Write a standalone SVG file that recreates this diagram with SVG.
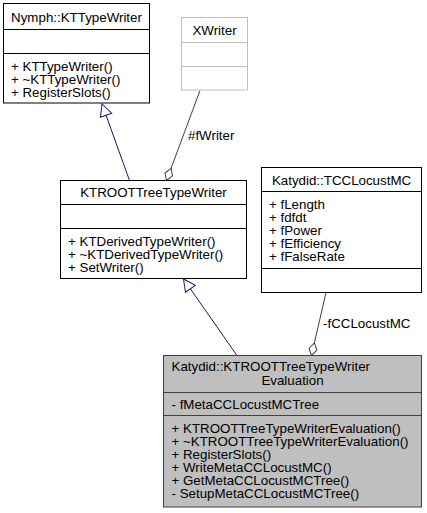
<svg xmlns="http://www.w3.org/2000/svg" width="427" height="513" viewBox="0 0 427 513">
<style>
text { font-family: "Liberation Sans", Arial, Helvetica, sans-serif; font-size: 13.33px; fill: #000; }
.c { text-anchor: middle; }
.box { fill: #ffffff; stroke: #000000; stroke-width: 1; }
.ghost { fill: #ffffff; stroke: #bfbfbf; stroke-width: 1; }
.hl { fill: #bfbfbf; stroke: #404040; stroke-width: 1; }
.div { stroke: #000000; stroke-width: 1; }
.gdiv { stroke: #bfbfbf; stroke-width: 1; }
.hdiv { stroke: #404040; stroke-width: 1; }
.inh { fill: none; stroke: #191970; stroke-width: 1; }
.agg { fill: none; stroke: #404040; stroke-width: 1; }
</style>
<defs>
<marker id="tri" markerUnits="userSpaceOnUse" markerWidth="14" markerHeight="14" refX="12.5" refY="6.5" orient="auto" overflow="visible">
<path d="M0.5,0.5 L12.5,6.5 L0.5,12.5 Z" fill="#ffffff" stroke="#191970" stroke-width="1"/>
</marker>
<marker id="dia" markerUnits="userSpaceOnUse" markerWidth="15" markerHeight="10" refX="13.5" refY="4.5" orient="auto" overflow="visible">
<path d="M0.5,4.5 L7,0.5 L13.5,4.5 L7,8.5 Z" fill="#ffffff" stroke="#404040" stroke-width="1"/>
</marker>
</defs>

<g id="connectors">
<path class="inh" d="M129.5,180.5 L102,104" marker-end="url(#tri)"/>
<path class="inh" d="M237,355.5 L183.5,279" marker-end="url(#tri)"/>
<path class="agg" d="M200,90.5 L166.5,180.5" marker-end="url(#dia)"/>
<text x="188" y="140">#fWriter</text>
<path class="agg" d="M326,292.5 L311.5,355.5" marker-end="url(#dia)"/>
<text x="323" y="328">-fCCLocustMC</text>
</g>

<g id="node-nymph-kttypewriter">
<rect class="box" x="3.5" y="3.5" width="146" height="99.5"/>
<line class="div" x1="3.5" y1="29.5" x2="149.5" y2="29.5"/>
<line class="div" x1="3.5" y1="53.5" x2="149.5" y2="53.5"/>
<text class="c" x="76.5" y="21.5">Nymph::KTTypeWriter</text>
<text x="11" y="70.5">+ KTTypeWriter()</text>
<text x="11" y="83.5">+ ~KTTypeWriter()</text>
<text x="11" y="96.5">+ RegisterSlots()</text>
</g>

<g id="node-xwriter">
<rect class="ghost" x="181.5" y="17.5" width="66" height="72.5"/>
<line class="gdiv" x1="181.5" y1="42.5" x2="247.5" y2="42.5"/>
<line class="gdiv" x1="181.5" y1="66.5" x2="247.5" y2="66.5"/>
<text class="c" x="214.5" y="34.5">XWriter</text>
</g>

<g id="node-ktroottreetypewriter">
<rect class="box" x="60.5" y="180.5" width="186" height="98"/>
<line class="div" x1="60.5" y1="204.5" x2="246.5" y2="204.5"/>
<line class="div" x1="60.5" y1="228.5" x2="246.5" y2="228.5"/>
<text class="c" x="153.5" y="197">KTROOTTreeTypeWriter</text>
<text x="68" y="245.5">+ KTDerivedTypeWriter()</text>
<text x="68" y="258.5">+ ~KTDerivedTypeWriter()</text>
<text x="68" y="271.5">+ SetWriter()</text>
</g>

<g id="node-tcclocustmc">
<rect class="box" x="261.5" y="167.5" width="160" height="125"/>
<line class="div" x1="261.5" y1="191.5" x2="421.5" y2="191.5"/>
<line class="div" x1="261.5" y1="268.5" x2="421.5" y2="268.5"/>
<text class="c" x="341.5" y="184.5">Katydid::TCCLocustMC</text>
<text x="269" y="208.5">+ fLength</text>
<text x="269" y="221.5">+ fdfdt</text>
<text x="269" y="234.5">+ fPower</text>
<text x="269" y="247.5">+ fEfficiency</text>
<text x="269" y="260.5">+ fFalseRate</text>
</g>

<g id="node-ktroottreetypewriterevaluation">
<rect class="hl" x="163.5" y="355.5" width="258" height="151.5"/>
<line class="hdiv" x1="163.5" y1="392.5" x2="421.5" y2="392.5"/>
<line class="hdiv" x1="163.5" y1="415.5" x2="421.5" y2="415.5"/>
<text x="171.5" y="371">Katydid::KTROOTTreeTypeWriter</text>
<text class="c" x="292.5" y="385">Evaluation</text>
<text x="171.5" y="408.5">- fMetaCCLocustMCTree</text>
<text x="171.5" y="432.5">+ KTROOTTreeTypeWriterEvaluation()</text>
<text x="171.5" y="445.5">+ ~KTROOTTreeTypeWriterEvaluation()</text>
<text x="171.5" y="458.5">+ RegisterSlots()</text>
<text x="171.5" y="471.5">+ WriteMetaCCLocustMC()</text>
<text x="171.5" y="484.5">+ GetMetaCCLocustMCTree()</text>
<text x="171.5" y="497.5">- SetupMetaCCLocustMCTree()</text>
</g>
</svg>
